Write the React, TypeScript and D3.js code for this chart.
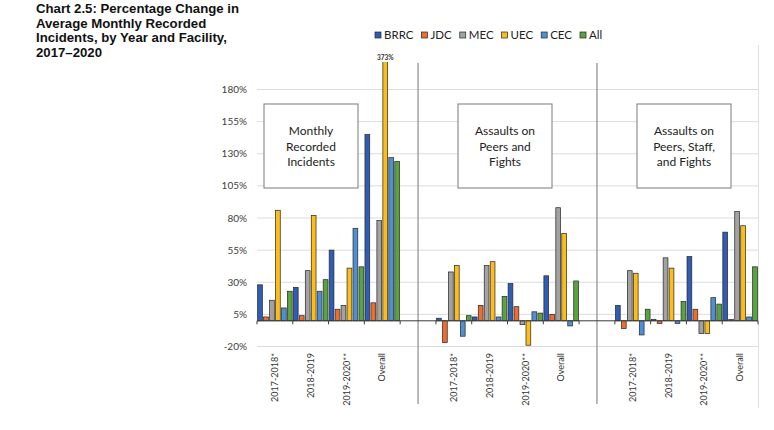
import { useEffect, useRef } from "react"
import * as d3 from "d3"

// series (facilities) and colors
const series = ["BRRC", "JDC", "MEC", "UEC", "CEC", "All"]
const colors = ["#2f5cb5", "#ed6d2f", "#a2a2a2", "#fbbd1c", "#4f8fd3", "#5aa33f"]

const periods = ["2017-2018*", "2018-2019", "2019-2020**", "Overall"]
const panels = ["Monthly|Recorded|Incidents", "Assaults on|Peers and|Fights", "Assaults on|Peers, Staff,|and Fights"]

// values per period, in series order
const monthlyIncidents = [
  [28, 3, 16, 86, 10, 23],
  [26, 4, 39, 82, 23, 32],
  [55, 9, 12, 41, 72, 42],
  [145, 14, 78, 373, 127, 124],
]
const assaultsPeers = [
  [2, -17, 38, 43, -12, 4],
  [3, 12, 43, 46, 3, 19],
  [29, 11, -3, -19, 7, 6],
  [35, 5, 88, 68, -4, 31],
]
const assaultsAll = [
  [12, -6, 39, 37, -11, 9],
  [1, -2, 49, 41, -2, 15],
  [50, 9, -10, -10, 18, 13],
  [69, 1, 85, 74, 3, 42],
]
const panelData = [monthlyIncidents, assaultsPeers, assaultsAll]

const yTicks = [-20, 5, 30, 55, 80, 105, 130, 155, 180]

const font = "Lato, 'Open Sans', sans-serif"

export default function App() {
  const svgRef = useRef<SVGSVGElement>(null)

  useEffect(() => {
    if (!svgRef.current) return
    const svg = d3.select(svgRef.current)
    svg.selectAll("*").remove()

    // one continuous category axis, with an empty slot between panels
    const slots: string[] = []
    panels.forEach((_, p) => {
      if (p > 0) slots.push(`gap${p}`)
      periods.forEach(c => slots.push(`${p}|${c}`))
    })
    const x = d3.scaleBand().domain(slots).range([257, 758]).padding(0)
    const y = d3.scaleLinear().domain([-20, 180]).range([346.5, 89.5])
    const sub = d3.scaleBand().domain(series).range([0, x.bandwidth()]).padding(0)

    svg.append("defs").append("clipPath").attr("id", "plotclip")
      .append("rect").attr("x", 250).attr("y", 62).attr("width", 520).attr("height", 360)

    // title
    const title = ["Chart 2.5: Percentage Change in", "Average Monthly Recorded", "Incidents, by Year and Facility,", "2017\u20132020"]
    svg.append("g").selectAll("text").data(title).enter().append("text")
      .attr("x", 36).attr("y", (d, i) => 13 + i * 14.5)
      .style("font-family", "'Liberation Sans', Arial, sans-serif")
      .style("font-weight", "bold").style("font-size", "13.2px").attr("fill", "#111")
      .text(d => d)

    // gridlines + y labels
    svg.append("g").selectAll("line").data(yTicks).enter().append("line")
      .attr("x1", 257).attr("x2", 758)
      .attr("y1", d => y(d)).attr("y2", d => y(d))
      .attr("stroke", "#dcdcdc").attr("stroke-width", 1)
    svg.append("g").selectAll("text").data(yTicks).enter().append("text")
      .attr("x", 247).attr("y", d => y(d)).attr("dy", "0.35em")
      .attr("text-anchor", "end")
      .style("font-family", font).style("font-size", "10px").attr("fill", "#404040")
      .text(d => `${d}%`)

    // right border
    svg.append("line").attr("x1", 758.5).attr("x2", 758.5).attr("y1", 45).attr("y2", 408)
      .attr("stroke", "#e0e0e0")

    // separators in the empty slots
    slots.filter(s => s.startsWith("gap")).forEach(s => {
      const cx = (x(s) ?? 0) + x.bandwidth() / 2
      svg.append("line").attr("x1", cx).attr("x2", cx).attr("y1", 63).attr("y2", 404)
        .attr("stroke", "#808080").attr("stroke-width", 1.1)
    })

    // bars
    const bars = svg.append("g").attr("clip-path", "url(#plotclip)")
    panelData.forEach((rows, p) => {
      rows.forEach((vals, ci) => {
        const x0 = x(`${p}|${periods[ci]}`) ?? 0
        vals.forEach((v, si) => {
          const bx = x0 + (sub(series[si]) ?? 0) + 0.6
          const w = sub.bandwidth() - 1.2
          bars.append("rect")
            .attr("x", bx).attr("width", w)
            .attr("y", Math.min(y(v), y(0))).attr("height", Math.abs(y(v) - y(0)))
            .attr("fill", colors[si]).attr("stroke", "#262626").attr("stroke-width", 0.7)
          if (v > 202) {
            svg.append("text").attr("x", bx + w / 2).attr("y", 59.5)
              .attr("text-anchor", "middle")
              .style("font-family", font).style("font-size", "6.5px").style("font-weight", "bold")
              .attr("fill", "#333").text(`${v}%`)
          }
        })
      })
    })

    // zero axis and ticks
    svg.append("line").attr("x1", 257).attr("x2", 758).attr("y1", y(0)).attr("y2", y(0))
      .attr("stroke", "#3a3a3a").attr("stroke-width", 1)
    const bounds = slots.map(s => x(s) ?? 0).concat([758])
    svg.append("g").selectAll("line").data(bounds).enter().append("line")
      .attr("x1", d => d).attr("x2", d => d).attr("y1", y(0)).attr("y2", y(0) + 3.5)
      .attr("stroke", "#3a3a3a")

    // category labels
    panels.forEach((_, p) => {
      periods.forEach(c => {
        const cx = (x(`${p}|${c}`) ?? 0) + x.bandwidth() / 2
        svg.append("text")
          .attr("transform", `translate(${cx},353) rotate(-90)`)
          .attr("text-anchor", "end").attr("dy", "0.35em")
          .style("font-family", font).style("font-size", "9px").attr("fill", "#333")
          .text(c)
      })
    })

    // panel text boxes
    const boxLeft = [264, 458, 637]
    panels.forEach((label, p) => {
      const g = svg.append("g").attr("transform", `translate(${boxLeft[p]},104)`)
      g.append("rect").attr("width", 94).attr("height", 84)
        .attr("fill", "#fff").attr("stroke", "#7a7a7a").attr("stroke-width", 1)
      g.selectAll("text").data(label.split("|")).enter().append("text")
        .attr("x", 47).attr("y", (d, i) => 27 + i * 15.5).attr("dy", "0.35em")
        .attr("text-anchor", "middle")
        .style("font-family", font).style("font-size", "12px").attr("fill", "#222")
        .text(d => d)
    })

    // legend
    const legend = svg.append("g")
    let lx = 375
    series.forEach((s, i) => {
      legend.append("rect").attr("x", lx).attr("y", 32).attr("width", 6).attr("height", 6)
        .attr("fill", colors[i]).attr("stroke", "#262626").attr("stroke-width", 0.7)
      const t = legend.append("text").attr("x", lx + 9).attr("y", 35).attr("dy", "0.35em")
        .style("font-family", font).style("font-size", "11.5px").attr("fill", "#222").text(s)
      const tw = (t.node() as SVGTextElement).getComputedTextLength()
      lx += 9 + tw + 8
    })
  }, [])

  return (
    <svg ref={svgRef} width={774} height={430}
      style={{ position: "absolute", left: 0, top: 0, background: "#fff" }} />
  )
}
